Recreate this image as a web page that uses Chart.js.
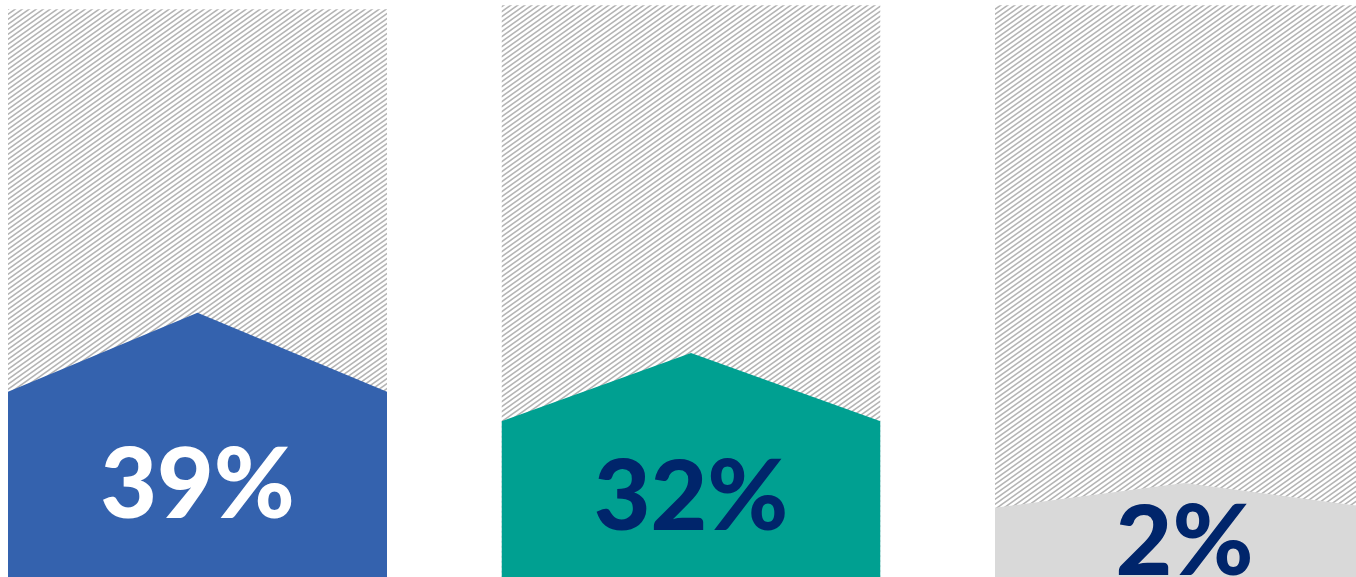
<!DOCTYPE html>
<html>
<head>
<meta charset="utf-8">
<script src="https://cdn.jsdelivr.net/npm/chart.js@4/dist/chart.umd.min.js"></script>
<style>
  html, body { margin: 0; padding: 0; background: #ffffff; }
  #wrap { width: 1356px; height: 577px; position: relative; }
</style>
</head>
<body>
<div id="wrap"><canvas id="c"></canvas></div>
<script>
// ---- data (y in % of chart height) ----
const categories   = ['A', 'B', 'C'];
const valueLabels  = ['39%', '32%', '2%'];
const panelTop     = [98.4, 99.1, 99.1];   // height of hatched background
const shoulderLvl  = [32.1, 27.0, 12.0];   // side height of the house shape
const peakLvl      = [45.8, 38.8, 16.3];   // roof peak of the house shape

// ---- styles ----
const fillColors  = ['#3462ae', '#00a091', '#d9d9d9'];
const textColors  = ['#ffffff', '#00256b', '#00256b'];
const labelBase   = [10.2, 8.1, 0.3];      // text baseline level (layout)
const HALF = 0.384;                        // half panel width in category units

// hatch pattern
function makeHatch() {
  const W = 7, H = 5;
  const t = document.createElement('canvas');
  t.width = W; t.height = H;
  const g = t.getContext('2d');
  g.fillStyle = '#ffffff';
  g.fillRect(0, 0, W, H);
  g.strokeStyle = '#b4b4b4';
  g.lineWidth = 1.5;
  for (let k = -3; k <= 3; k++) {
    const off = k * W;
    g.beginPath();
    g.moveTo(off - W, 2 * H);
    g.lineTo(off + 2 * W, -H);
    g.stroke();
  }
  return g.createPattern(t, 'repeat');
}
const ctx = document.getElementById('c').getContext('2d');
const hatch = makeHatch();

const bgSets = categories.map((c, i) => ({
  label: c + ' bg',
  data: [{x: i - HALF, y: panelTop[i]}, {x: i + HALF, y: panelTop[i]}],
  backgroundColor: hatch,
  borderWidth: 0,
  pointRadius: 0,
  fill: 'origin',
  order: 2
}));
const shapeSets = categories.map((c, i) => ({
  label: c,
  data: [{x: i - HALF, y: shoulderLvl[i]}, {x: i, y: peakLvl[i]}, {x: i + HALF, y: shoulderLvl[i]}],
  backgroundColor: fillColors[i],
  borderWidth: 0,
  pointRadius: 0,
  fill: 'origin',
  tension: 0,
  order: 1
}));

const labelPlugin = {
  id: 'valueLabels',
  afterDatasetsDraw(chart) {
    const c = chart.ctx;
    const xs = chart.scales.x, ys = chart.scales.y;
    c.save();
    c.textAlign = 'center';
    c.textBaseline = 'alphabetic';
    c.font = '900 98px Lato, "Open Sans", sans-serif';
    valueLabels.forEach((t, i) => {
      c.fillStyle = textColors[i];
      c.fillText(t, xs.getPixelForValue(i), ys.getPixelForValue(labelBase[i]));
    });
    c.restore();
  }
};

new Chart(ctx, {
  type: 'line',
  data: { datasets: [...bgSets, ...shapeSets] },
  options: {
    responsive: true,
    maintainAspectRatio: false,
    animation: false,
    layout: { padding: 0 },
    plugins: { legend: { display: false }, tooltip: { enabled: false } },
    scales: {
      x: { type: 'linear', min: -0.4002, max: 2.3475, display: false },
      y: { type: 'linear', min: 0, max: 100, display: false }
    }
  },
  plugins: [labelPlugin]
});
</script>
</body>
</html>
